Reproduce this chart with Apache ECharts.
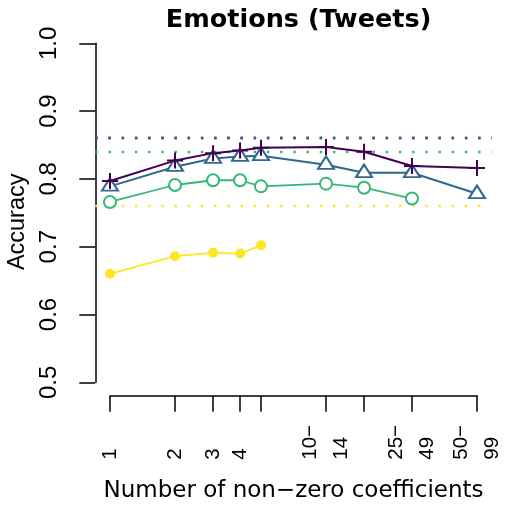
<!DOCTYPE html>
<html><head><meta charset="utf-8">
<script src="https://cdn.jsdelivr.net/npm/echarts@6/dist/echarts.min.js"></script>
<style>html,body{margin:0;padding:0;background:#fff}#c{width:523px;height:523px}</style>
</head><body><div id="c"></div>
<script>
// ---- data ----
const groupSizes = [1, 2, 3, 4, 5, 10, 15, 25, 50];
const tickLabelValues = [1, 2, 3, 4, 10, 25, 50];
const tickLabels = ['1', '2', '3', '4', '10\u2212\n14', '25\u2212\n49', '50\u2212\n99'];
const yTickLabels = ['0.5', '0.6', '0.7', '0.8', '0.9', '1.0'];
const accPurple = [0.797, 0.827, 0.838, 0.842, 0.846, 0.847, 0.840, 0.819, 0.816];
const accBlue   = [0.789, 0.818, 0.830, 0.833, 0.834, 0.821, 0.809, 0.809, 0.778];
const accGreen  = [0.766, 0.791, 0.798, 0.798, 0.789, 0.793, 0.787, 0.771];
const accYellow = [0.660, 0.686, 0.691, 0.690, 0.702];
const refLines  = [0.865, 0.857, 0.841, 0.759];
const seriesColors = ['#440154', '#31688E', '#35B779', '#FDE725'];

const toPts = vals => vals.map((v, i) => [groupSizes[i], v]);
const labelOf = {};
tickLabelValues.forEach((v, i) => { labelOf[v] = tickLabels[i]; });

const chart = echarts.init(document.getElementById('c'));
const base = {type: 'line', xAxisIndex: 1, yAxisIndex: 1, clip: false, z: 5,
  emphasis: {disabled: true}, animation: false};

chart.setOption({
  animation: false,
  title: {text: 'Emotions (Tweets)', left: 293.5, top: 2.5, textAlign: 'center',
    textStyle: {fontFamily: 'DejaVu Sans', fontWeight: 'bold', fontSize: 25.5, color: '#000'}},
  grid: [
    {left: 95.3, right: 31.3, top: 29.7, bottom: 127.3, containLabel: false, outerBoundsMode: 'none'},
    {left: 110, right: 46, top: 43.3, bottom: 140.7, containLabel: false, outerBoundsMode: 'none'}
  ],
  xAxis: [
    {gridIndex: 0, type: 'value', min: 0, max: 1, show: false},
    {gridIndex: 1, type: 'log', logBase: 2, min: 1, max: 50, offset: 13.4,
      axisLine: {show: true, lineStyle: {color: '#000', width: 1.5}},
      axisTick: {show: true, length: 16, lineStyle: {color: '#000', width: 1.5}, customValues: groupSizes},
      axisLabel: {customValues: tickLabelValues, rotate: 90, align: 'left', verticalAlign: 'middle',
        margin: 64, fontFamily: 'Liberation Sans', fontSize: 20.5, color: '#000', lineHeight: 31,
        formatter: v => labelOf[Math.round(v)] || ''},
      splitLine: {show: false}, minorTick: {show: false},
      name: 'Number of non\u2212zero coefficients', nameLocation: 'middle', nameGap: 83.5,
      nameTextStyle: {fontFamily: 'DejaVu Sans', fontSize: 23, color: '#000'}}
  ],
  yAxis: [
    {gridIndex: 0, type: 'value', min: 0.48, max: 1.02, show: false},
    {gridIndex: 1, type: 'value', min: 0.5, max: 1.0, interval: 0.1, offset: 14.7,
      axisLine: {show: true, lineStyle: {color: '#000', width: 1.5}},
      axisTick: {show: true, length: 16, lineStyle: {color: '#000', width: 1.5}},
      axisLabel: {rotate: 90, margin: 34, fontFamily: 'Liberation Sans', fontSize: 24, color: '#000',
        formatter: v => yTickLabels[Math.round((v - 0.5) * 10)]},
      splitLine: {show: false},
      name: 'Accuracy', nameLocation: 'middle', nameGap: 62.6,
      nameTextStyle: {fontFamily: 'Liberation Sans', fontSize: 23.5, color: '#000', padding: [0, 18, 0, 0]}}
  ],
  series: [
    {type: 'line', xAxisIndex: 0, yAxisIndex: 0, data: [], z: 2, animation: false,
      markLine: {silent: true, symbol: 'none', label: {show: false}, animation: false,
        data: refLines.map((v, i) => ({yAxis: v,
          lineStyle: {color: seriesColors[i], width: 2.3, type: [2.4, 10.8], cap: 'butt'}}))}},
    Object.assign({}, base, {data: toPts(accYellow), symbol: 'circle', symbolSize: 10,
      lineStyle: {color: seriesColors[3], width: 1.8},
      itemStyle: {color: seriesColors[3]}}),
    Object.assign({}, base, {data: toPts(accGreen), symbol: 'emptyCircle', symbolSize: 12,
      lineStyle: {color: seriesColors[2], width: 1.8},
      itemStyle: {color: seriesColors[2], borderWidth: 2}}),
    Object.assign({}, base, {data: toPts(accBlue), symbol: 'path://M5,0L10,8.66L0,8.66Z',
      symbolSize: [16, 12.5], symbolOffset: [0, -2], symbolKeepAspect: false,
      lineStyle: {color: seriesColors[1], width: 2},
      itemStyle: {color: '#fff', borderColor: seriesColors[1], borderWidth: 2}}),
    Object.assign({}, base, {data: toPts(accPurple), symbol: 'path://M0,5L10,5M5,0L5,10',
      symbolSize: 16,
      lineStyle: {color: seriesColors[0], width: 2},
      itemStyle: {color: 'rgba(0,0,0,0)', borderColor: seriesColors[0], borderWidth: 2}})
  ]
});
</script></body></html>
